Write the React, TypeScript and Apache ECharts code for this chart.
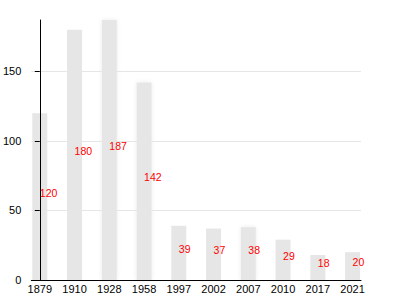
import React, { useEffect, useRef } from "react";
import * as echarts from "echarts";

const years = ["1879", "1910", "1928", "1958", "1997", "2002", "2007", "2010", "2017", "2021"];
const values = [120, 180, 187, 142, 39, 37, 38, 29, 18, 20];
const blurred = [false, false, true, true, false, false, true, false, false, false];
const yTicks = [0, 50, 100, 150];

export default function App() {
  const ref = useRef<HTMLDivElement>(null);
  useEffect(() => {
    if (!ref.current) return;
    const chart = echarts.init(ref.current, undefined, { renderer: "svg" });
    const pad = 8.5 / 35;
    chart.setOption({
      animation: false,
      grid: { left: 30, right: 39, top: 20, bottom: 20, containLabel: false },
      xAxis: {
        type: "value",
        z: 5,
        min: -pad,
        max: years.length - 1 + pad,
        splitLine: { show: false },
        axisLine: { show: true, lineStyle: { color: "#000", width: 1 } },
        axisTick: { show: false },
        axisLabel: {
          customValues: years.map((_, i) => i),
          formatter: (v: number) => years[Math.round(v)] ?? "",
          color: "#000",
          fontSize: 11,
          fontFamily: "Liberation Sans, Arial, sans-serif",
          margin: 3,
        },
      },
      yAxis: {
        type: "value",
        z: 5,
        min: 0,
        max: 187,
        interval: 50,
        axisLine: { show: true, lineStyle: { color: "#000", width: 1 } },
        axisTick: { show: true, length: 5, lineStyle: { color: "#000" }, customValues: yTicks },
        axisLabel: {
          customValues: yTicks,
          color: "#000",
          fontSize: 11,
          fontFamily: "Liberation Sans, Arial, sans-serif",
          margin: 10,
        },
        splitLine: {
          show: true,
          lineStyle: { color: ["#e6e6e6", "#e6e6e6", "#e6e6e6", "#e6e6e6", "rgba(0,0,0,0)"], width: 1 },
        },
      },
      series: [
        {
          type: "bar",
          barWidth: 15,
          data: values.map((v, i) => ({
            value: [i, v],
            itemStyle: blurred[i]
              ? { color: "#e6e6e6", shadowBlur: 4, shadowColor: "rgba(0,0,0,0.08)" }
              : { color: "#e6e6e6" },
          })),
          label: {
            show: true,
            position: ["50%", "50%"],
            align: "left",
            verticalAlign: "middle",
            offset: [0, -4],
            formatter: (p: any) => String(p.value[1]),
            color: "#ff0000",
            fontSize: 10.5,
            fontFamily: "Liberation Sans, Arial, sans-serif",
          },
        },
      ],
    });
    return () => chart.dispose();
  }, []);
  return <div ref={ref} style={{ width: 400, height: 300, position: "absolute", left: 0, top: 0 }} />;
}
